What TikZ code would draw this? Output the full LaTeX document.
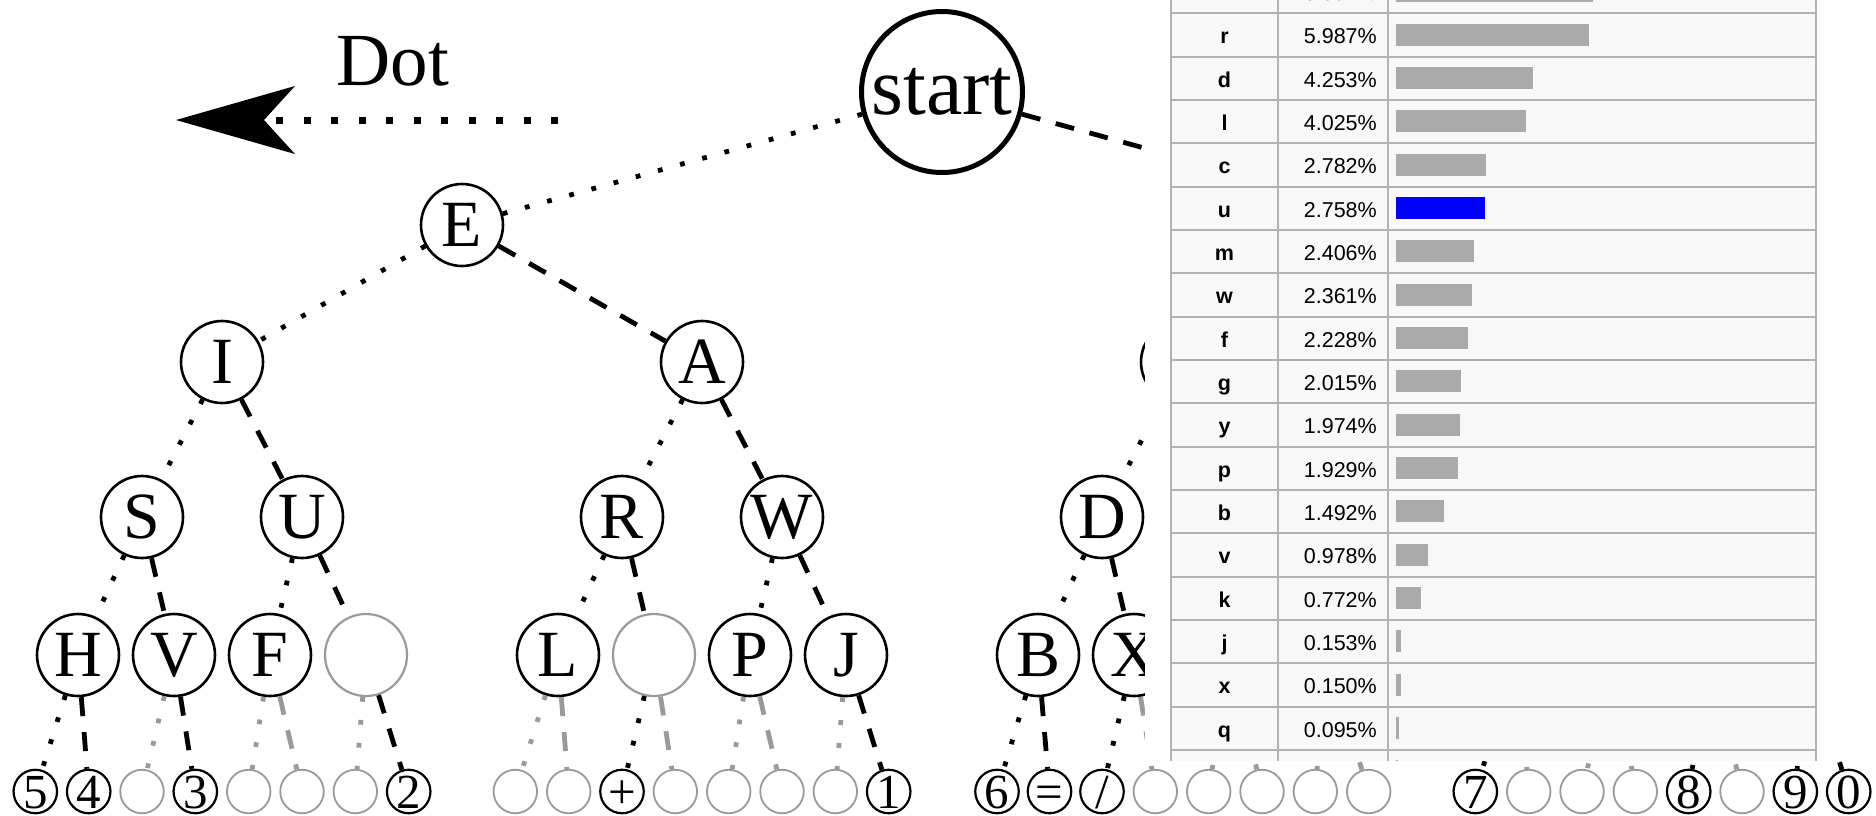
\documentclass[tikz,border=0pt]{standalone}
\usepackage{fontspec}
\usetikzlibrary{arrows.meta}
\newfontfamily\serifface{Liberation Serif}
\newfontfamily\sansface{Liberation Sans}
\definecolor{fadegray}{HTML}{9A9A9A}
\definecolor{tablebg}{HTML}{F8F8F8}
\definecolor{rulegray}{HTML}{B2B2B2}
\definecolor{barfill}{HTML}{AAAAAA}
\definecolor{barblue}{HTML}{0000FF}

\begin{document}
\begin{tikzpicture}[x=1pt, y=-1pt,
  rootnode/.style={circle, draw, line width=5pt, minimum size=161pt, inner sep=0pt, fill=white,
    font=\serifface\fontsize{82}{90}\selectfont},
  letternode/.style={circle, draw, line width=2.6pt, minimum size=82pt, inner sep=0pt, fill=white,
    text height=43.7pt, text depth=0pt, font=\serifface\fontsize{66}{72}\selectfont},
  blanknode/.style={letternode, draw=fadegray, line width=2.2pt},
  leafnode/.style={circle, draw, line width=2.2pt, minimum size=43.5pt, inner sep=0pt, fill=white,
    text height=33.1pt, text depth=0pt, font=\serifface\fontsize{49}{54}\selectfont},
  blankleaf/.style={leafnode, draw=fadegray, line width=1.8pt},
  ditline/.style={draw=black, line width=4.8pt, dash pattern=on 4.8pt off 18.2pt},
  dahline/.style={draw=black, line width=4.8pt, dash pattern=on 19pt off 16pt},
  faintdit/.style={ditline, draw=fadegray},
  faintdah/.style={dahline, draw=fadegray},
  dotarrow/.style={line width=7pt, dash pattern=on 7pt off 20.5pt,
    -{Stealth[length=119pt, width=68pt, inset=31pt, line width=0pt]}},
  tablerule/.style={draw=rulegray, line width=2pt},
  lettercell/.style={anchor=base, inner sep=0pt, font=\sansface\bfseries\fontsize{21.5}{25}\selectfont},
  pctcell/.style={anchor=base east, inner sep=0pt, font=\sansface\fontsize{21.5}{25}\selectfont},
]
\useasboundingbox (0,0) rectangle (1876,815);
\clip (0,0) rectangle (1876,815);
\fill[white] (0,0) rectangle (1876,815);

% legend: a dot is the left branch
\node[inner sep=0pt, font=\serifface\fontsize{75}{80}\selectfont] (dotlabel) at (393,61) {Dot};
\coordinate (dotfrom) at (558,120);
\coordinate (dotto) at (176,120);
\draw[dotarrow] (dotfrom) -- (dotto);

% the Morse tree
\node[rootnode] (root) at (942,92) {start};

\foreach \nm/\xx/\lab in {d/462/E, h/1422/{}}
  \node[letternode] (\nm) at (\xx,225) {\lab};

\foreach \nm/\xx/\lab in {dd/222/I, dh/702/A, hd/1182/{}, hh/1662/{}}
  \node[letternode] (\nm) at (\xx,362) {\lab};

\foreach \nm/\xx/\lab in {ddd/142/S, ddh/302/U, dhd/622/R, dhh/782/W,
                          hdd/1102/D, hdh/1262/{}, hhd/1582/{}, hhh/1742/{}}
  \node[letternode] (\nm) at (\xx,517) {\lab};

\foreach \nm/\xx/\lab/\sty in {dddd/78/H/letternode, dddh/174/V/letternode,
    ddhd/270/F/letternode, ddhh/366/{}/blanknode,
    dhdd/558/L/letternode, dhdh/654/{}/blanknode,
    dhhd/750/P/letternode, dhhh/846/J/letternode,
    hddd/1038/B/letternode, hddh/1134/X/letternode,
    hdhd/1230/{}/letternode, hdhh/1326/{}/letternode,
    hhdd/1518/{}/letternode, hhdh/1614/{}/letternode,
    hhhd/1710/{}/letternode, hhhh/1806/{}/letternode}
  \node[\sty] (\nm) at (\xx,655) {\lab};

\foreach \up/\nm/\ln in {root/d/ditline, root/h/dahline,
    d/dd/ditline, d/dh/dahline, h/hd/ditline, h/hh/dahline,
    dd/ddd/ditline, dd/ddh/dahline, dh/dhd/ditline, dh/dhh/dahline,
    hd/hdd/ditline, hd/hdh/dahline, hh/hhd/ditline, hh/hhh/dahline,
    ddd/dddd/ditline, ddd/dddh/dahline, ddh/ddhd/ditline, ddh/ddhh/dahline,
    dhd/dhdd/ditline, dhd/dhdh/dahline, dhh/dhhd/ditline, dhh/dhhh/dahline,
    hdd/hddd/ditline, hdd/hddh/dahline, hdh/hdhd/ditline, hdh/hdhh/dahline,
    hhd/hhdd/ditline, hhd/hhdh/dahline, hhh/hhhd/ditline, hhh/hhhh/dahline}
  \draw[\ln] (\up) -- (\nm);

% five-signal row
\foreach \nm/\up/\xx/\lab/\sty/\ln in {
    ddddd/dddd/35.3/5/leafnode/ditline,     ddddh/dddd/88.7/4/leafnode/dahline,
    dddhd/dddh/142/{}/blankleaf/faintdit,   dddhh/dddh/195.3/3/leafnode/dahline,
    ddhdd/ddhd/248.7/{}/blankleaf/faintdit, ddhdh/ddhd/302/{}/blankleaf/faintdah,
    ddhhd/ddhh/355.3/{}/blankleaf/faintdit, ddhhh/ddhh/408.7/2/leafnode/dahline,
    dhddd/dhdd/515.3/{}/blankleaf/faintdit, dhddh/dhdd/568.7/{}/blankleaf/faintdah,
    dhdhd/dhdh/622/+/leafnode/ditline,      dhdhh/dhdh/675.3/{}/blankleaf/faintdah,
    dhhdd/dhhd/728.7/{}/blankleaf/faintdit, dhhdh/dhhd/782/{}/blankleaf/faintdah,
    dhhhd/dhhh/835.3/{}/blankleaf/faintdit, dhhhh/dhhh/888.7/1/leafnode/dahline,
    hdddd/hddd/997/6/leafnode/ditline,      hdddh/hddd/1049.5/=/leafnode/dahline,
    hddhd/hddh/1102/{/}/leafnode/ditline,   hddhh/hddh/1155.3/{}/blankleaf/faintdah,
    hdhdd/hdhd/1208.7/{}/blankleaf/faintdit, hdhdh/hdhd/1262/{}/blankleaf/faintdah,
    hdhhd/hdhh/1315.3/{}/blankleaf/faintdit, hdhhh/hdhh/1368.7/{}/blankleaf/faintdah,
    hhddd/hhdd/1475.3/7/leafnode/ditline,    hhddh/hhdd/1528.7/{}/blankleaf/faintdah,
    hhdhd/hhdh/1582/{}/blankleaf/faintdit,   hhdhh/hhdh/1635.3/{}/blankleaf/faintdah,
    hhhdd/hhhd/1688.7/8/leafnode/ditline,    hhhdh/hhhd/1742/{}/blankleaf/faintdah,
    hhhhd/hhhh/1795.3/9/leafnode/ditline,    hhhhh/hhhh/1848.7/0/leafnode/dahline}
{
  \node[\sty] (\nm) at (\xx,791.5) {\lab};
  \draw[\ln] (\up) -- (\nm);
}

% letter frequency table laid over the right part
\fill[white] (1145,-30) rectangle (1880,760);
\begin{scope}
  \clip (1145,-30) rectangle (1880,760);
  \fill[tablebg] (1171,-30) rectangle (1816,800);
  \foreach \ltr/\pct/\barcol [count=\i from 0] in {h/6.094/barfill, r/5.987/barfill,
      d/4.253/barfill, l/4.025/barfill, c/2.782/barfill, u/2.758/barblue,
      m/2.406/barfill, w/2.361/barfill, f/2.228/barfill, g/2.015/barfill,
      y/1.974/barfill, p/1.929/barfill, b/1.492/barfill, v/0.978/barfill,
      k/0.772/barfill, j/0.153/barfill, x/0.150/barfill, q/0.095/barfill,
      z/0.074/barfill}
  {
    \pgfmathsetmacro\rowmid{-8.333+43.333*\i}
    \pgfmathsetmacro\bartop{round(\rowmid-11.2)}
    \fill[\barcol] (1396,\bartop) rectangle ++(32.25*\pct,22);
    \node[lettercell] (ltr\i) at (1224.5,\rowmid+8.7) {\ltr};
    \node[pctcell] (pct\i) at (1377,\rowmid+8.7) {\pct\%};
  }
  % row rules sit on whole pixels so they all render alike
  \foreach \k in {0,...,18} {
    \pgfmathsetmacro\ruley{round(-30+43.333*\k)}
    \draw[tablerule] (1171,\ruley) -- (1816,\ruley);
  }
  \foreach \xx in {1171,1278,1388,1816}
    \draw[tablerule] (\xx,-30) -- (\xx,800);
\end{scope}
\end{tikzpicture}
\end{document}
